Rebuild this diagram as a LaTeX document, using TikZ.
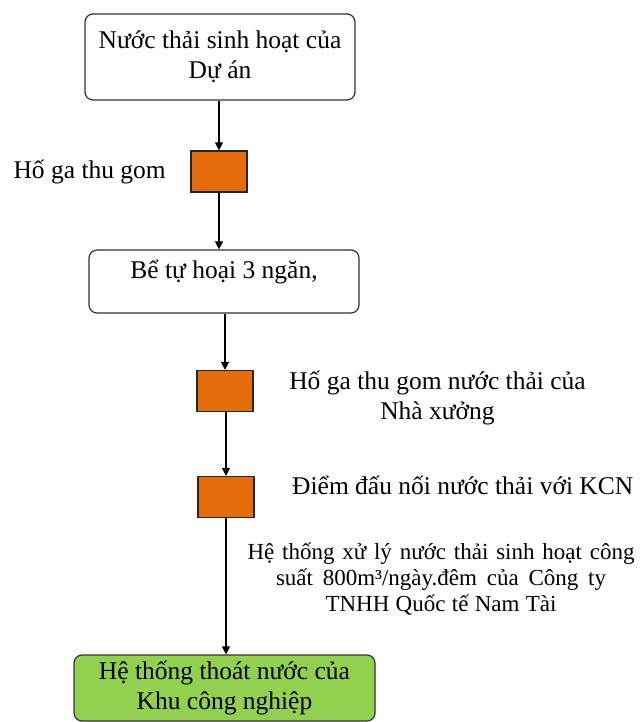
\documentclass[tikz,border=0pt]{standalone}
\usepackage{fontspec}
\setmainfont{Liberation Serif}
\usetikzlibrary{arrows.meta}
\definecolor{pitorange}{HTML}{E46C0A}
\definecolor{draingreen}{HTML}{92D050}

\begin{document}
\begin{tikzpicture}[x=1pt,y=-1pt,
  txt/.style={font=\fontsize{25.5}{30}\selectfont, align=center, inner sep=0pt},
  rbox/.style={draw=black!80, line width=1.2pt, rounded corners=8pt, fill=white},
  pit/.style={draw=black!85, line width=1.2pt, fill=pitorange,
    minimum width=56pt, minimum height=41pt, inner sep=0pt},
  flow/.style={draw=black, line width=1.1pt, -{Triangle[width=8pt,length=8pt]}}]
\useasboundingbox (0,0) rectangle (642,722);

% source and treatment boxes
\node[rbox, txt, minimum width=270pt, minimum height=86pt] (src) at (220,57)
  {Nước thải sinh hoạt của\\Dự án};
\node[rbox, minimum width=270pt, minimum height=63pt] (tank) at (224,281.5) {};
\node[txt] (tanktxt) at (224,272) {Bể tự hoại 3 ngăn,};

% manholes
\node[pit] (pit1) at (219,171.5) {};
\node[pit] (pit2) at (225,391) {};
\node[pit] (pit3) at (226,497) {};

% labels beside the manholes
\node[txt, anchor=east] (pit1txt) at (166,172) {Hố ga thu gom};
\node[txt] (pit2txt) at (437.5,398) {Hố ga thu gom nước thải của\\Nhà xưởng};
\node[txt, anchor=west] (pit3txt) at (292,485) {Điểm đấu nối nước thải với KCN};

% treatment plant note
\node[font=\fontsize{23}{26}\selectfont, align=center, inner sep=0pt] (plant) at (441,579)
  {\makebox[387pt][s]{Hệ thống xử lý nước thải sinh hoạt công}\\
   \makebox[330pt][s]{suất 800m³/ngày.đêm của Công ty}\\
   \makebox[231pt][s]{TNHH Quốc tế Nam Tài}};

% industrial park drainage
\node[rbox, fill=draingreen, txt, minimum width=301pt, minimum height=66pt] (park) at (224.5,688)
  {Hệ thống thoát nước của\\Khu công nghiệp};

% connectors
\draw[flow] (src.south -| pit1.center) -- (pit1.north);
\draw[flow] (pit1.south) -- (pit1.south |- tank.north);
\draw[flow] (tank.south -| pit2.center) -- (pit2.north);
\draw[flow] (pit2.south -| pit3.center) -- (pit3.north);
\draw[flow] (pit3.south) -- (pit3.south |- park.north);
\end{tikzpicture}
\end{document}
